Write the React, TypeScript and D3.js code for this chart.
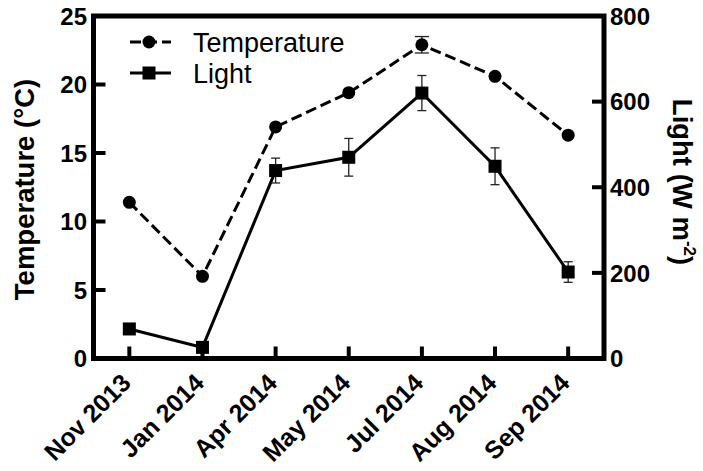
import React from 'react';
import * as d3 from 'd3';

// Sampling campaigns
const months = ['Nov 2013', 'Jan 2014', 'Apr 2014', 'May 2014', 'Jul 2014', 'Aug 2014', 'Sep 2014'];
// Mean water temperature (°C) and its error
const temperature = [11.4, 6.0, 16.9, 19.4, 22.9, 20.6, 16.3];
const temperatureErr = [0, 0, 0, 0, 0.6, 0, 0];
// Mean light (W m-2) and its error
const light = [69, 26, 439, 470, 620, 449, 202];
const lightErr = [0, 0, 29, 44, 41, 43, 24];
// Axis ticks
const tempTicks = [0, 5, 10, 15, 20, 25];
const lightTicks = [0, 200, 400, 600, 800];

const W = 703;
const H = 471;
const left = 93.5;
const right = 604;
const top = 16;
const bottom = 358.5;
const FONT = 'Arial, "Liberation Sans", Helvetica, sans-serif';
const DASH = '11,5';

export default function App() {
  const x = d3.scalePoint<string>().domain(months).range([left, right]).padding(0.49);
  const yT = d3.scaleLinear().domain([0, 25]).range([bottom, top]);
  const yL = d3.scaleLinear().domain([0, 800]).range([bottom, top]);

  const tempLine = d3
    .line<number>()
    .x((_, i) => x(months[i]) as number)
    .y((d) => yT(d));
  const lightLine = d3
    .line<number>()
    .x((_, i) => x(months[i]) as number)
    .y((d) => yL(d));

  const sq = 13;
  const r = 6.5;

  return (
    <svg
      width={W}
      height={H}
      viewBox={`0 0 ${W} ${H}`}
      style={{ position: 'absolute', left: 0, top: 0, background: '#fff' }}
      fontFamily={FONT}
    >
      {/* Lines */}
      <path d={tempLine(temperature) || ''} fill="none" stroke="#000" strokeWidth={3} strokeDasharray={DASH} />
      <path d={lightLine(light) || ''} fill="none" stroke="#000" strokeWidth={3} />

      {/* Error bars */}
      {temperature.map((v, i) =>
        temperatureErr[i] > 0 ? (
          <g key={`te${i}`} stroke="#222" strokeWidth={1.3}>
            <line x1={x(months[i])} x2={x(months[i])} y1={yT(v - temperatureErr[i])} y2={yT(v + temperatureErr[i])} />
            <line x1={(x(months[i]) as number) - 7} x2={(x(months[i]) as number) + 7} y1={yT(v + temperatureErr[i])} y2={yT(v + temperatureErr[i])} />
            <line x1={(x(months[i]) as number) - 7} x2={(x(months[i]) as number) + 7} y1={yT(v - temperatureErr[i])} y2={yT(v - temperatureErr[i])} />
          </g>
        ) : null
      )}
      {light.map((v, i) =>
        lightErr[i] > 0 ? (
          <g key={`le${i}`} stroke="#222" strokeWidth={1.3}>
            <line x1={x(months[i])} x2={x(months[i])} y1={yL(v - lightErr[i])} y2={yL(v + lightErr[i])} />
            <line x1={(x(months[i]) as number) - 4.5} x2={(x(months[i]) as number) + 4.5} y1={yL(v + lightErr[i])} y2={yL(v + lightErr[i])} />
            <line x1={(x(months[i]) as number) - 4.5} x2={(x(months[i]) as number) + 4.5} y1={yL(v - lightErr[i])} y2={yL(v - lightErr[i])} />
          </g>
        ) : null
      )}

      {/* Markers */}
      {temperature.map((v, i) => (
        <circle key={`tc${i}`} cx={x(months[i])} cy={yT(v)} r={r} fill="#000" />
      ))}
      {light.map((v, i) => (
        <rect key={`ls${i}`} x={(x(months[i]) as number) - sq / 2} y={yL(v) - sq / 2} width={sq} height={sq} fill="#000" />
      ))}

      {/* Frame */}
      <rect x={left} y={top} width={right - left} height={bottom - top} fill="none" stroke="#000" strokeWidth={5} />

      {/* Left axis */}
      {tempTicks.map((t) => (
        <g key={`lt${t}`}>
          <line x1={left} x2={left + 12} y1={yT(t)} y2={yT(t)} stroke="#000" strokeWidth={4} />
          <text x={left - 6.5} y={yT(t)} dy="0.36em" textAnchor="end" fontSize={24} fontWeight="bold">
            {t}
          </text>
        </g>
      ))}

      {/* Right axis */}
      {lightTicks.map((t) => (
        <g key={`rt${t}`}>
          <line x1={right - 12} x2={right} y1={yL(t)} y2={yL(t)} stroke="#000" strokeWidth={4} />
          <text x={right + 6} y={yL(t)} dy="0.36em" textAnchor="start" fontSize={24} fontWeight="bold">
            {t}
          </text>
        </g>
      ))}

      {/* Bottom axis */}
      {months.map((m) => (
        <g key={`bt${m}`}>
          <line x1={x(m)} x2={x(m)} y1={bottom} y2={bottom - 12} stroke="#000" strokeWidth={4} />
          <text
            transform={`translate(${(x(m) as number) + 3},${bottom + 26}) rotate(-45)`}
            textAnchor="end"
            fontSize={25}
            fontWeight="bold"
          >
            {m}
          </text>
        </g>
      ))}

      {/* Axis titles */}
      <text transform={`translate(34,189.5) rotate(-90)`} textAnchor="middle" fontSize={27.5} fontWeight="bold">
        Temperature (°C)
      </text>
      <text transform={`translate(673,182) rotate(90)`} textAnchor="middle" fontSize={27.5} fontWeight="bold">
        Light (W m
        <tspan fontSize={17} dy={-11}>-2</tspan>
        <tspan dy={11}>)</tspan>
      </text>

      {/* Legend */}
      <g>
        <line x1={130} x2={171} y1={42} y2={42} stroke="#000" strokeWidth={3} strokeDasharray={DASH} />
        <circle cx={149} cy={42} r={r} fill="#000" />
        <text x={193} y={42} dy="0.36em" fontSize={27}>
          Temperature
        </text>
        <line x1={130} x2={171} y1={73} y2={73} stroke="#000" strokeWidth={3} />
        <rect x={149 - sq / 2} y={73 - sq / 2} width={sq} height={sq} fill="#000" />
        <text x={193} y={73} dy="0.36em" fontSize={27}>
          Light
        </text>
      </g>
    </svg>
  );
}
